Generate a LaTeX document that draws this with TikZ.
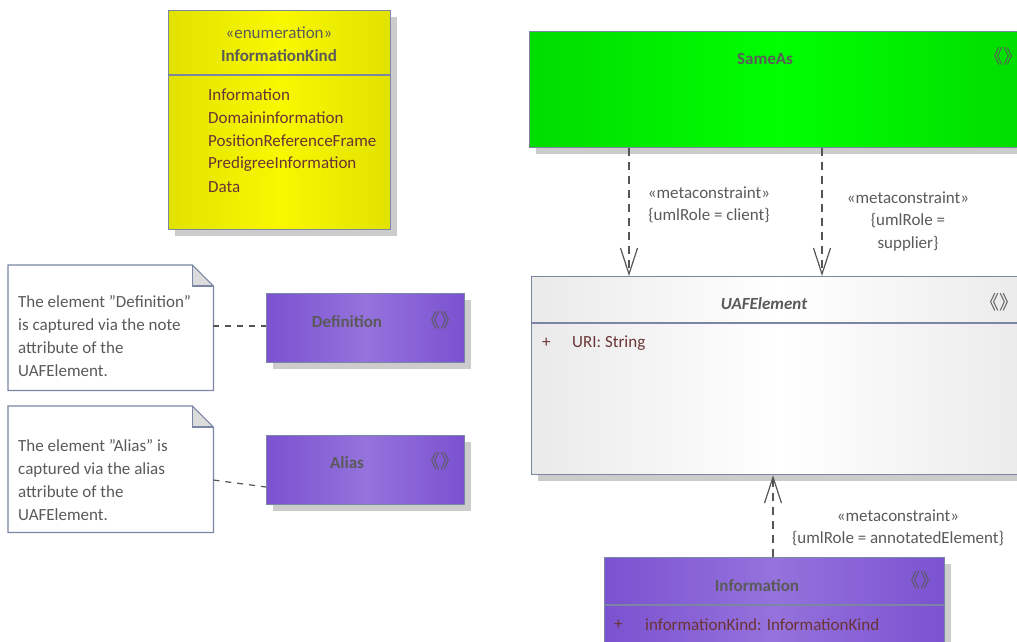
\documentclass[tikz,border=0pt]{standalone}
\usepackage{fontspec}
\setmainfont{Carlito}
\newfontfamily\cjk{Noto Sans CJK SC}
\usetikzlibrary{arrows.meta,calc,shadows}
\definecolor{bord}{HTML}{7A86A3}
\definecolor{txt}{HTML}{5A5A5A}
\definecolor{attr}{HTML}{6B3434}
\definecolor{shad}{HTML}{CCCCCC}
\definecolor{lnk}{HTML}{555555}
\definecolor{yelA}{HTML}{E2E200}
\definecolor{yelB}{HTML}{F8F800}
\definecolor{grnA}{HTML}{00DC00}
\definecolor{grnB}{HTML}{00FF00}
\definecolor{purA}{HTML}{7B52D0}
\definecolor{purB}{HTML}{9572DC}
\definecolor{gryA}{HTML}{EAEAEA}
\definecolor{gryB}{HTML}{FFFFFF}
\definecolor{foldc}{HTML}{DCDCDC}
\newcommand{\dq}{\symbol{34}}
\begin{document}
\begin{tikzpicture}[x=1pt,y=-1pt,
  font=\fontsize{17}{20}\selectfont,
  box/.style={draw=bord, line width=1.2pt, anchor=north west, inner sep=0pt,
    drop shadow={shadow xshift=6pt, shadow yshift=-6pt, fill=shad, opacity=1}},
  yelbox/.style={box, left color=yelA, right color=yelA, middle color=yelB},
  grnbox/.style={box, left color=grnA, right color=grnA, middle color=grnB},
  purbox/.style={box, left color=purA, right color=purA, middle color=purB},
  grybox/.style={box, left color=gryA, right color=gryA, middle color=gryB},
  notebox/.style={anchor=north west, inner sep=0pt},
  title/.style={text=txt, font=\fontsize{17}{20}\selectfont\bfseries},
  lbl/.style={text=txt, align=center, inner sep=0pt},
  item/.style={text=attr, anchor=west, inner sep=0pt},
  notetext/.style={text=txt, anchor=north west, align=left, inner sep=0pt, font=\fontsize{17}{23}\selectfont},
  guil/.style={text=txt, font=\cjk\fontsize{19}{20}\selectfont, inner sep=0pt},
  dep/.style={draw=lnk, line width=1.2pt, dash pattern=on 8pt off 6pt,
    -{Straight Barb[length=26pt,width=17pt,line width=1.2pt]}},
  notelink/.style={draw=lnk, line width=1.2pt, dash pattern=on 6pt off 6pt}
]
\useasboundingbox (0,0) rectangle (1017,641);

% ---- InformationKind enumeration
\node[yelbox, minimum width=222pt, minimum height=219pt] (enum) at (168,10) {};
\draw[bord, line width=1.2pt] ($(enum.north west)+(0,65)$) -- ($(enum.north east)+(0,65)$);
\node[lbl] (enumst) at (279,33) {«enumeration»};
\node[title] (enumname) at (279,56) {InformationKind};
\node[item] (e1) at (208,95) {Information};
\node[item] (e2) at (208,118) {Domaininformation};
\node[item] (e3) at (208,141) {PositionReferenceFrame};
\node[item] (e4) at (208,164) {PredigreeInformation};
\node[item] (e5) at (208,187) {Data};

% ---- SameAs
\node[grnbox, minimum width=500pt, minimum height=116pt] (sameas) at (529,31) {};
\node[title] (sameasname) at (765,59) {SameAs};
\node[guil] (sameasg) at (1003,56) {《》};

% ---- UAFElement
\node[grybox, minimum width=500pt, minimum height=198pt] (uaf) at (531,276) {};
\draw[bord, line width=1.2pt] ($(uaf.north west)+(0,47)$) -- ($(uaf.north east)+(0,47)$);
\node[title, font=\fontsize{17}{20}\selectfont\bfseries\itshape] (uafname) at (764,304) {UAFElement};
\node[guil] (uafg) at (999,302) {《》};
\node[item] (uafplus) at (542,343) {+};
\node[item] (uafattr) at (572,343) {URI: String};

% ---- Information
\node[purbox, minimum width=340pt, minimum height=100pt] (info) at (604,557) {};
\draw[bord, line width=1.2pt] ($(info.north west)+(0,48)$) -- ($(info.north east)+(0,48)$);
\node[title] (infoname) at (757,586) {Information};
\node[guil] (infog) at (920,580) {《》};
\node[item] (infoplus) at (614,625) {+};
\node[item] (infoattr) at (645,625) {informationKind: InformationKind};

% ---- Definition / Alias
\node[purbox, minimum width=198pt, minimum height=69pt] (defn) at (266,293) {};
\node[title] (defnname) at (347,322) {Definition};
\node[guil] (defng) at (440,320) {《》};
\node[purbox, minimum width=198pt, minimum height=69pt] (alias) at (266,435) {};
\node[title] (aliasname) at (347,463) {Alias};
\node[guil] (aliasg) at (440,461) {《》};

% ---- Notes
\node[notebox, minimum width=205pt, minimum height=125pt] (note1) at (8,265) {};
\node[notebox, minimum width=205pt, minimum height=126pt] (note2) at (8,406) {};
\foreach \n in {note1,note2}{
  \fill[white] (\n.north west) -- ($(\n.north east)+(-21,0)$) -- ($(\n.north east)+(0,21)$) -- (\n.south east) -- (\n.south west) -- cycle;
  \fill[foldc] ($(\n.north east)+(-21,0)$) -- ($(\n.north east)+(0,21)$) -- ($(\n.north east)+(-21,21)$) -- cycle;
  \draw[bord, line width=1.2pt, line join=miter] (\n.north west) -- ($(\n.north east)+(-21,0)$) -- ($(\n.north east)+(0,21)$) -- (\n.south east) -- (\n.south west) -- cycle;
  \draw[bord, line width=1.2pt] ($(\n.north east)+(-21,0)$) -- ($(\n.north east)+(-21,21)$) -- ($(\n.north east)+(0,21)$);
}
\node[notetext] (note1text) at (18,295) {The element \dq Definition\dq\\is captured via the note\\attribute of the\\UAFElement.};
\node[notetext] (note2text) at (18,439) {The element \dq Alias\dq{} is\\captured via the alias\\attribute of the\\UAFElement.};

% ---- note links
\draw[notelink] (note1.east |- 0,326) -- (defn.west |- 0,326);
\draw[notelink] (note2.east |- 0,480) -- (alias.west |- 0,487);

% ---- metaconstraint dependencies
\coordinate (c1) at (629,0);
\coordinate (c2) at (822,0);
\coordinate (c3) at (773,0);
\draw[dep] (sameas.south -| c1) -- (uaf.north -| c1);
\draw[dep] (sameas.south -| c2) -- (uaf.north -| c2);
\draw[dep] (info.north -| c3) -- (uaf.south -| c3);

\node[lbl] (l1a) at (709,193) {«metaconstraint»};
\node[lbl] (l1b) at (709,216) {\{umlRole = client\}};
\node[lbl] (l2a) at (908,198) {«metaconstraint»};
\node[lbl] (l2b) at (908,221) {\{umlRole =};
\node[lbl] (l2c) at (908,244) {supplier\}};
\node[lbl] (l3a) at (898,516) {«metaconstraint»};
\node[lbl] (l3b) at (898,539) {\{umlRole = annotatedElement\}};
\end{tikzpicture}
\end{document}
